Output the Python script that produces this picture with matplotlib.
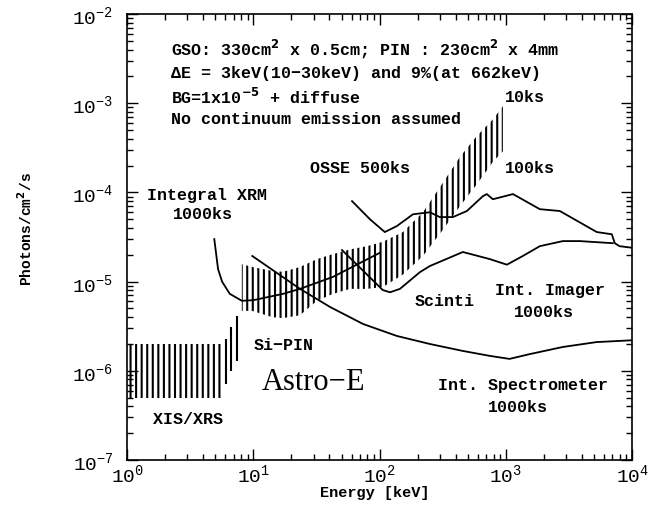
import numpy as np
import matplotlib
matplotlib.use("Agg")
import matplotlib.pyplot as plt
from matplotlib.ticker import FuncFormatter, LogLocator

# XIS/XRS sensitivity band (keV, photons/cm2/s)
xis_e = [1.0, 5.5]
xis_lo = [5.0e-7, 5.0e-7]
xis_hi = [2.0e-6, 2.0e-6]
# the three rising lines at the end of the XIS band
xis_end_e = [6.1, 6.7, 7.4]
xis_end_lo = [7.1e-7, 1.0e-6, 1.3e-6]
xis_end_hi = [2.3e-6, 3.1e-6, 4.1e-6]

# Si-PIN + Scinti band (HXD)
hxd_e = [8.1, 9.8, 14.1, 17.2, 23.4, 31.9, 42.8, 58.3, 79.5, 106, 153, 221, 312, 433, 590, 790, 948]
hxd_lo = [4.7e-6, 4.7e-6, 4.0e-6, 3.9e-6, 4.2e-6, 6.1e-6, 7.3e-6, 8.3e-6, 8.3e-6, 8.7e-6,
          1.2e-5, 1.95e-5, 3.7e-5, 7.0e-5, 1.24e-4, 2.2e-4, 2.9e-4]
hxd_hi = [1.57e-5, 1.46e-5, 1.32e-5, 1.29e-5, 1.46e-5, 1.79e-5, 2.04e-5, 2.3e-5, 2.5e-5, 2.8e-5,
          3.6e-5, 6.0e-5, 1.24e-4, 2.5e-4, 4.3e-4, 6.6e-4, 9.3e-4]

# Integral XRM 1000ks
xrm_e = [4.9, 5.25, 5.65, 6.5, 8.1, 10.0, 17.2, 23.4, 42.7, 70.0, 100]
xrm_f = [3.0e-5, 1.38e-5, 1.0e-5, 7.3e-6, 6.1e-6, 6.2e-6, 7.3e-6, 8.3e-6, 1.13e-5, 1.62e-5, 2.1e-5]

# Int. Spectrometer 1000ks
spi_e = [9.8, 23.4, 40.5, 74, 137, 250, 457, 748, 1070, 1550, 2830, 5240, 10000]
spi_f = [1.94e-5, 8.3e-6, 5.2e-6, 3.35e-6, 2.46e-6, 2.0e-6, 1.67e-6, 1.47e-6, 1.36e-6,
         1.54e-6, 1.85e-6, 2.1e-6, 2.2e-6]

# Scinti / Int. Imager 1000ks
ibis_e = [50.4, 106, 121, 145, 209, 251, 457, 748, 1020, 1365, 1860, 2830, 3860, 7050]
ibis_f = [2.26e-5, 8.05e-6, 7.6e-6, 8.3e-6, 1.28e-5, 1.5e-5, 2.15e-5, 1.79e-5, 1.55e-5,
          1.94e-5, 2.5e-5, 2.85e-5, 2.85e-5, 2.7e-5]

# OSSE 500ks
osse_e = [60.5, 84, 110, 137, 184, 250, 300, 381, 492, 659, 708, 790, 1140, 1860, 2680,
          5260, 6920, 7310, 7960, 10000]
osse_f = [8.0e-5, 5.0e-5, 3.6e-5, 4.2e-5, 5.7e-5, 6.0e-5, 5.3e-5, 5.3e-5, 6.2e-5, 9.1e-5,
          9.6e-5, 8.4e-5, 9.6e-5, 6.5e-5, 6.2e-5, 3.6e-5, 3.4e-5, 2.7e-5, 2.5e-5, 2.4e-5]

plt.rcParams['font.family'] = ['Liberation Mono', 'DejaVu Sans']
plt.rcParams['hatch.linewidth'] = 1.5

fig = plt.figure(figsize=(6.59, 5.06), dpi=100)
ax = fig.add_axes([0.193, 0.089, 0.766, 0.881])

ax.fill_between(xis_e, xis_lo, xis_hi, facecolor='none', edgecolor='k', hatch='|||', linewidth=0)
ax.vlines(xis_end_e, xis_end_lo, xis_end_hi, color='k', lw=1.5)
ax.fill_between(hxd_e, hxd_lo, hxd_hi, facecolor='none', edgecolor='k', hatch='|||', linewidth=0)

for e, f in [(xrm_e, xrm_f), (spi_e, spi_f), (ibis_e, ibis_f), (osse_e, osse_f)]:
    ax.plot(e, f, color='k', lw=1.3)

ax.set_xscale('log')
ax.set_yscale('log')
ax.set_xlim(1, 1e4)
ax.set_ylim(1e-7, 1e-2)

fmt = FuncFormatter(lambda v, p: r'$\mathregular{10^{%d}}$' % round(np.log10(v)))
ax.xaxis.set_major_formatter(fmt)
ax.yaxis.set_major_formatter(fmt)
ax.xaxis.set_minor_locator(LogLocator(base=10, subs=np.arange(2, 10)))
ax.yaxis.set_minor_locator(LogLocator(base=10, subs=np.arange(2, 10)))
ax.tick_params(which='both', direction='in', top=True, right=True, width=1)
ax.tick_params(which='major', length=8, labelsize=14)
ax.tick_params(which='minor', length=4)
ax.tick_params(axis='y', pad=10)
ax.tick_params(axis='x', pad=2)
for s in ax.spines.values():
    s.set_linewidth(1.2)

ax.set_xlabel('Energy [keV]', fontsize=11, fontweight='bold')
ax.xaxis.label.set_va('center')
ax.xaxis.set_label_coords(0.49, -0.072)
ax.set_ylabel('Photons/cm$^\\mathbf{2}$/s', fontsize=10.5, fontweight='bold')
ax.yaxis.label.set_va('center')
ax.yaxis.set_label_coords(-0.202, 0.52)

tk = dict(transform=ax.transAxes, fontsize=12, fontweight='bold', va='center')
ax.text(0.087, 0.926, 'GSO: 330cm$^\\mathbf{2}$ x 0.5cm; PIN : 230cm$^\\mathbf{2}$ x 4mm', **tk)
ax.text(0.087, 0.870, 'ΔE = 3keV(10−30keV) and 9%(at 662keV)', **tk)
ax.text(0.087, 0.816, 'BG=1x10$^\\mathbf{-5}$ + diffuse', **tk)
ax.text(0.087, 0.767, 'No continuum emission assumed', **tk)
ax.text(0.749, 0.816, '10ks', **tk)
ax.text(0.362, 0.657, 'OSSE 500ks', **tk)
ax.text(0.749, 0.657, '100ks', **tk)
ax.text(0.040, 0.596, 'Integral XRM', **tk)
ax.text(0.091, 0.552, '1000ks', **tk)
ax.text(0.250, 0.260, 'Si−PIN', **tk)
ax.text(0.051, 0.094, 'XIS/XRS', **tk)
ax.text(0.570, 0.357, 'Scinti', **tk)
ax.text(0.729, 0.383, 'Int. Imager', **tk)
ax.text(0.826, 0.334, '1000ks', ha='center', **tk)
ax.text(0.616, 0.170, 'Int. Spectrometer', **tk)
ax.text(0.774, 0.121, '1000ks', ha='center', **tk)
ax.text(0.267, 0.177, 'Astro−E', transform=ax.transAxes, fontsize=22,
        family=['Liberation Serif', 'DejaVu Serif'], va='center')

fig.savefig('out.png', dpi=100)
